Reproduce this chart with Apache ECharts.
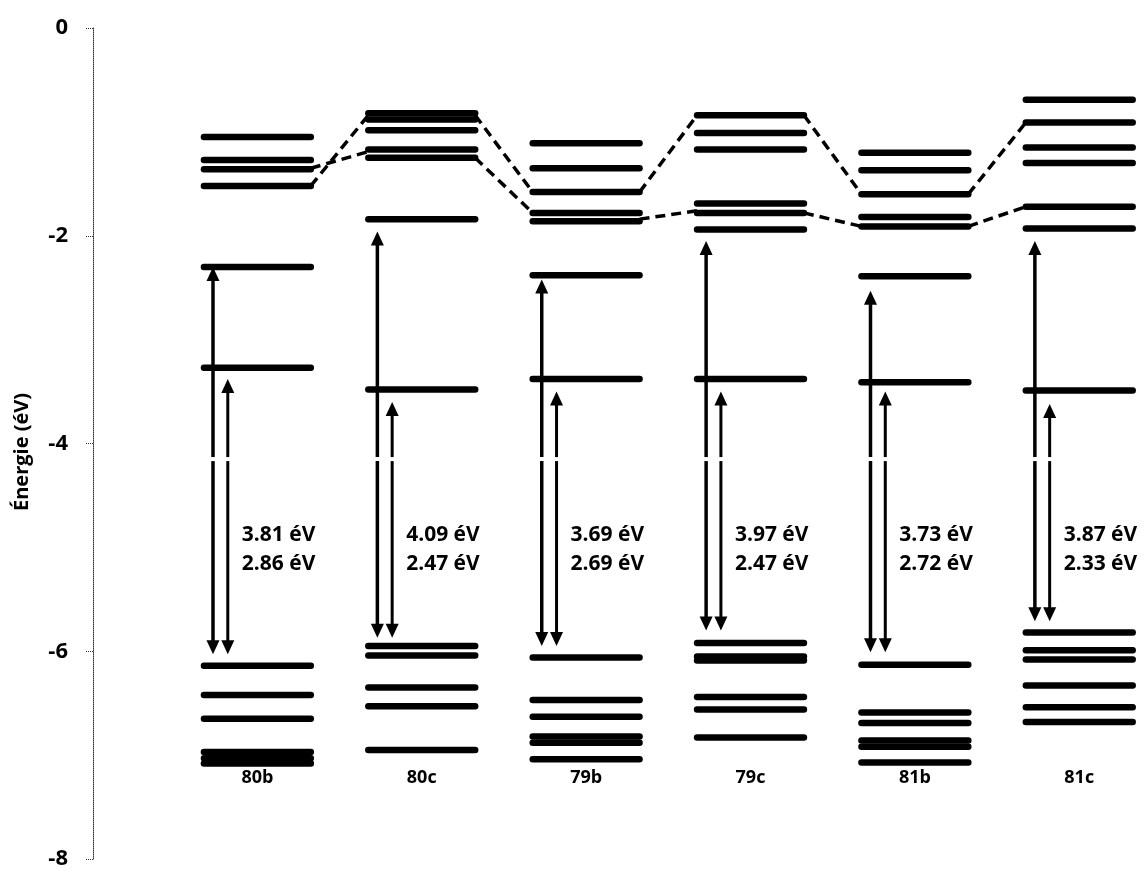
<!DOCTYPE html>
<html>
<head>
<meta charset="utf-8">
<script src="https://cdn.jsdelivr.net/npm/echarts@6/dist/echarts.min.js"></script>
<style>
  html, body { margin: 0; padding: 0; background: #fff; }
  #chart { width: 1145px; height: 870px; }
</style>
</head>
<body>
<div id="chart"></div>
<script>
// composés (colonnes)
const categories = ['80b', '80c', '79b', '79c', '81b', '81c']

// niveaux d'énergie (éV)
const levels80b = [-1.05, -1.27, -1.36, -1.52, -2.30, -3.27, -6.14, -6.42, -6.65, -6.97, -7.03, -7.08]
const levels80c = [-0.82, -0.88, -0.985, -1.17, -1.25, -1.84, -3.48, -5.95, -6.04, -6.35, -6.53, -6.95]
const levels79b = [-1.11, -1.35, -1.58, -1.78, -1.86, -2.38, -3.38, -6.06, -6.47, -6.63, -6.82, -6.88, -7.04]
const levels79c = [-0.84, -1.01, -1.17, -1.69, -1.78, -1.94, -3.38, -5.92, -6.05, -6.09, -6.44, -6.56, -6.83]
const levels81b = [-1.20, -1.37, -1.60, -1.82, -1.91, -2.39, -3.41, -6.13, -6.59, -6.69, -6.86, -6.92, -7.07]
const levels81c = [-0.69, -0.91, -1.15, -1.30, -1.72, -1.93, -3.49, -5.82, -5.99, -6.08, -6.33, -6.54, -6.68]

// niveaux reliés par les pointillés (départ à droite / arrivée à gauche de chaque colonne)
const upperOut = [-1.52, -0.84, -1.58, -0.84, -1.60]
const upperIn = [-0.84, -1.58, -0.84, -1.60, -0.91]
const lowerOut = [-1.35, -1.25, -1.84, -1.78, -1.91]
const lowerIn = [-1.19, -1.78, -1.76, -1.91, -1.72]

// flèches (bornes en éV)
const arrowTopLong = [-2.30, -1.96, -2.42, -2.05, -2.53, -2.05]
const arrowTopShort = [-3.38, -3.60, -3.50, -3.50, -3.50, -3.62]
const arrowBottom = [-6.03, -5.87, -5.95, -5.80, -6.01, -5.71]

// écarts affichés
const gapLong = ['3.81', '4.09', '3.69', '3.97', '3.73', '3.87']
const gapShort = ['2.86', '2.47', '2.69', '2.47', '2.72', '2.33']

const yTicks = [0, -2, -4, -6, -8]

const allLevels = [levels80b, levels80c, levels79b, levels79c, levels81b, levels81c]
const HALF = 0.325 // demi-largeur d'un niveau (unités x)
const FONT = '"Open Sans", "DejaVu Sans", sans-serif'

const levelData = []
allLevels.forEach((arr, i) => {
  arr.forEach(v => levelData.push([i + 1, v]))
})

function links (outs, ins) {
  return outs.map((v, i) => ({ coords: [[i + 1 + HALF, v], [i + 2 - HALF, ins[i]]] }))
}

const arrowData = []
categories.forEach((c, i) => {
  arrowData.push([i + 1 - 0.27, arrowTopLong[i], arrowBottom[i], 3.5])
  arrowData.push([i + 1 - 0.18, arrowTopShort[i], arrowBottom[i], 3])
})

const gapLabelData = categories.map((c, i) => [i + 1 - 0.095, -5.02, gapLong[i], gapShort[i]])
const catLabelData = categories.map((c, i) => [i + 1, -7.22, c])

const myChart = echarts.init(document.getElementById('chart'))
myChart.setOption({
  animation: false,
  grid: { left: 93, right: 0, top: 28, bottom: 8 },
  graphic: [
    {
      // titre de l'axe
      type: 'text',
      x: 22,
      y: 452,
      rotation: Math.PI / 2,
      style: {
        text: 'Énergie (éV)',
        fontFamily: FONT,
        fontSize: 20,
        fontWeight: 'bold',
        fill: '#000',
        align: 'center',
        verticalAlign: 'middle'
      }
    }
  ],
  xAxis: {
    type: 'value',
    min: 0,
    max: 6.4,
    show: false
  },
  yAxis: {
    type: 'value',
    min: -8,
    max: 0,
    interval: 2,
    axisLine: { show: true, lineStyle: { color: '#333', width: 1, type: 'dotted' } },
    axisTick: { show: true, length: 7, lineStyle: { color: '#333', type: 'dotted' } },
    axisLabel: {
      margin: 25,
      fontFamily: FONT,
      fontSize: 22,
      fontWeight: 'bold',
      color: '#000',
      formatter: v => yTicks.indexOf(v) >= 0 ? String(v) : ''
    },
    splitLine: { show: false }
  },
  series: [
    {
      // pointillés
      type: 'lines',
      coordinateSystem: 'cartesian2d',
      data: links(upperOut, upperIn).concat(links(lowerOut, lowerIn)),
      z: 2,
      lineStyle: { color: '#000', width: 3.5, type: [10, 6], opacity: 1 }
    },
    {
      // niveaux
      type: 'custom',
      data: levelData,
      z: 3,
      renderItem: function (params, api) {
        const x = api.value(0)
        const y = api.value(1)
        const p1 = api.coord([x - HALF, y])
        const p2 = api.coord([x + HALF, y])
        return {
          type: 'line',
          shape: { x1: p1[0], y1: p1[1], x2: p2[0], y2: p2[1] },
          style: { stroke: '#000', lineWidth: 6.5, lineCap: 'round' }
        }
      }
    },
    {
      // flèches doubles
      type: 'custom',
      data: arrowData,
      z: 4,
      renderItem: function (params, api) {
        const x = api.value(0)
        const top = api.coord([x, api.value(1)])
        const bot = api.coord([x, api.value(2)])
        const w = api.value(3)
        const gapY = api.coord([x, -4.15])[1]
        const hl = 14
        const hw = 6.5
        const px = top[0]
        return {
          type: 'group',
          children: [
            {
              type: 'line',
              shape: { x1: px, y1: top[1] + hl - 1, x2: px, y2: gapY - 2 },
              style: { stroke: '#000', lineWidth: w }
            },
            {
              type: 'line',
              shape: { x1: px, y1: gapY + 2, x2: px, y2: bot[1] - hl + 1 },
              style: { stroke: '#000', lineWidth: w }
            },
            {
              type: 'polygon',
              shape: { points: [[px, top[1]], [px - hw, top[1] + hl], [px + hw, top[1] + hl]] },
              style: { fill: '#000' }
            },
            {
              type: 'polygon',
              shape: { points: [[px, bot[1]], [px - hw, bot[1] - hl], [px + hw, bot[1] - hl]] },
              style: { fill: '#000' }
            }
          ]
        }
      }
    },
    {
      // valeurs des écarts
      type: 'custom',
      data: gapLabelData,
      z: 5,
      renderItem: function (params, api) {
        const p = api.coord([api.value(0), api.value(1)])
        return {
          type: 'text',
          x: p[0],
          y: p[1],
          style: {
            text: gapLabelData[params.dataIndex][2] + ' éV\n' + gapLabelData[params.dataIndex][3] + ' éV',
            fontFamily: FONT,
            fontSize: 21,
            fontWeight: 'bold',
            lineHeight: 29,
            fill: '#000',
            align: 'left',
            verticalAlign: 'middle'
          }
        }
      }
    },
    {
      // noms des composés
      type: 'custom',
      data: catLabelData,
      z: 5,
      renderItem: function (params, api) {
        const p = api.coord([api.value(0), api.value(1)])
        return {
          type: 'text',
          x: p[0],
          y: p[1],
          style: {
            text: catLabelData[params.dataIndex][2],
            fontFamily: FONT,
            fontSize: 18,
            fontWeight: 'bold',
            fill: '#000',
            align: 'center',
            verticalAlign: 'middle'
          }
        }
      }
    }
  ]
})
</script>
</body>
</html>
